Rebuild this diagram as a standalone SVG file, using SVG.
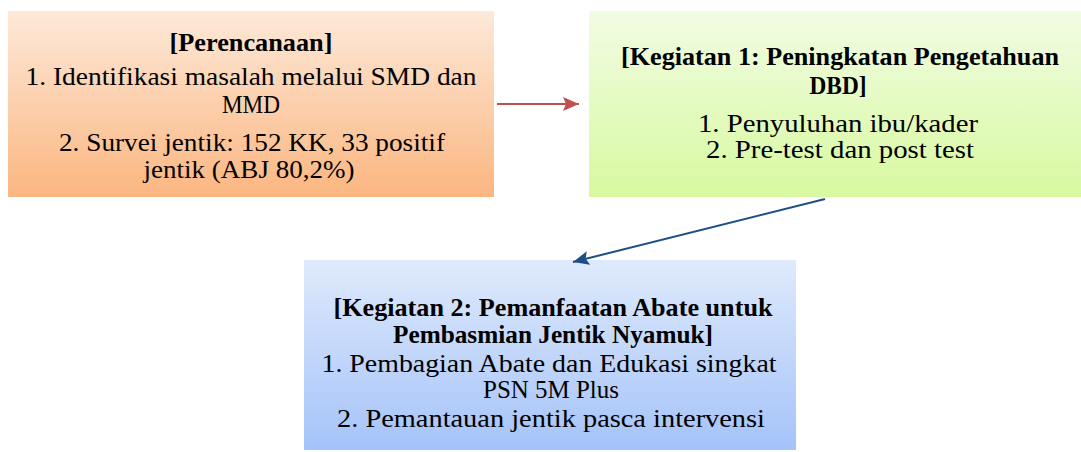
<svg xmlns="http://www.w3.org/2000/svg" width="1081" height="452" viewBox="0 0 1081 452">
<defs>
<linearGradient id="gOrange" x1="0" y1="0" x2="0" y2="1"><stop offset="0" stop-color="#fde9d9"/><stop offset="1" stop-color="#fbb680"/></linearGradient>
<linearGradient id="gGreen" x1="0" y1="0" x2="0" y2="1"><stop offset="0" stop-color="#f1fce4"/><stop offset="1" stop-color="#d8f9a0"/></linearGradient>
<linearGradient id="gBlue" x1="0" y1="0" x2="0" y2="1"><stop offset="0" stop-color="#dfeafc"/><stop offset="1" stop-color="#a5c3f9"/></linearGradient>
<marker id="arrRed" viewBox="0 0 16 14" refX="16" refY="7" markerWidth="16" markerHeight="14" markerUnits="userSpaceOnUse" orient="auto"><path d="M0,0 L16,7 L0,14 L3,7 Z" fill="#c0504d"/></marker>
<marker id="arrBlue" viewBox="0 0 16 14" refX="16" refY="7" markerWidth="16" markerHeight="14" markerUnits="userSpaceOnUse" orient="auto"><path d="M0,0 L16,7 L0,14 L3,7 Z" fill="#1f4e85"/></marker>
</defs>
<style>
text{font-family:"Liberation Serif","DejaVu Serif",serif;font-size:25px;fill:#000;text-anchor:middle}
.b{font-weight:bold;font-size:26px}
</style>
<rect width="1081" height="452" fill="#ffffff"/>
<g id="node-perencanaan">
<rect x="8" y="11" width="486" height="186" fill="url(#gOrange)"/>
<text class="b" x="251" y="51" textLength="163" lengthAdjust="spacingAndGlyphs">[Perencanaan]</text>
<text x="251" y="85" textLength="451" lengthAdjust="spacingAndGlyphs">1. Identifikasi masalah melalui SMD dan</text>
<text x="251" y="113" textLength="58" lengthAdjust="spacingAndGlyphs">MMD</text>
<text x="252" y="151" textLength="386" lengthAdjust="spacingAndGlyphs">2. Survei jentik: 152 KK, 33 positif</text>
<text x="249" y="178" textLength="211" lengthAdjust="spacingAndGlyphs">jentik (ABJ 80,2%)</text>
</g>
<g id="node-kegiatan1">
<rect x="589" y="11" width="492" height="186" fill="url(#gGreen)"/>
<text class="b" x="840" y="65" textLength="438" lengthAdjust="spacingAndGlyphs">[Kegiatan 1: Peningkatan Pengetahuan</text>
<text class="b" x="838" y="94" textLength="57" lengthAdjust="spacingAndGlyphs">DBD]</text>
<text x="838" y="132" textLength="280" lengthAdjust="spacingAndGlyphs">1. Penyuluhan ibu/kader</text>
<text x="840" y="158" textLength="268" lengthAdjust="spacingAndGlyphs">2. Pre-test dan post test</text>
</g>
<g id="node-kegiatan2">
<rect x="304" y="260" width="492" height="190" fill="url(#gBlue)"/>
<text class="b" x="553" y="316" textLength="439" lengthAdjust="spacingAndGlyphs">[Kegiatan 2: Pemanfaatan Abate untuk</text>
<text class="b" x="553" y="343" textLength="320" lengthAdjust="spacingAndGlyphs">Pembasmian Jentik Nyamuk]</text>
<text x="549" y="372" textLength="455" lengthAdjust="spacingAndGlyphs">1. Pembagian Abate dan Edukasi singkat</text>
<text x="551" y="398" textLength="136" lengthAdjust="spacingAndGlyphs">PSN 5M Plus</text>
<text x="551" y="427" textLength="428" lengthAdjust="spacingAndGlyphs">2. Pemantauan jentik pasca intervensi</text>
</g>
<g id="connectors" fill="none" stroke-width="2">
<line x1="497" y1="104" x2="579" y2="104" stroke="#c0504d" marker-end="url(#arrRed)"/>
<line x1="825" y1="199" x2="573" y2="262" stroke="#1f4e85" marker-end="url(#arrBlue)"/>
</g>
</svg>
